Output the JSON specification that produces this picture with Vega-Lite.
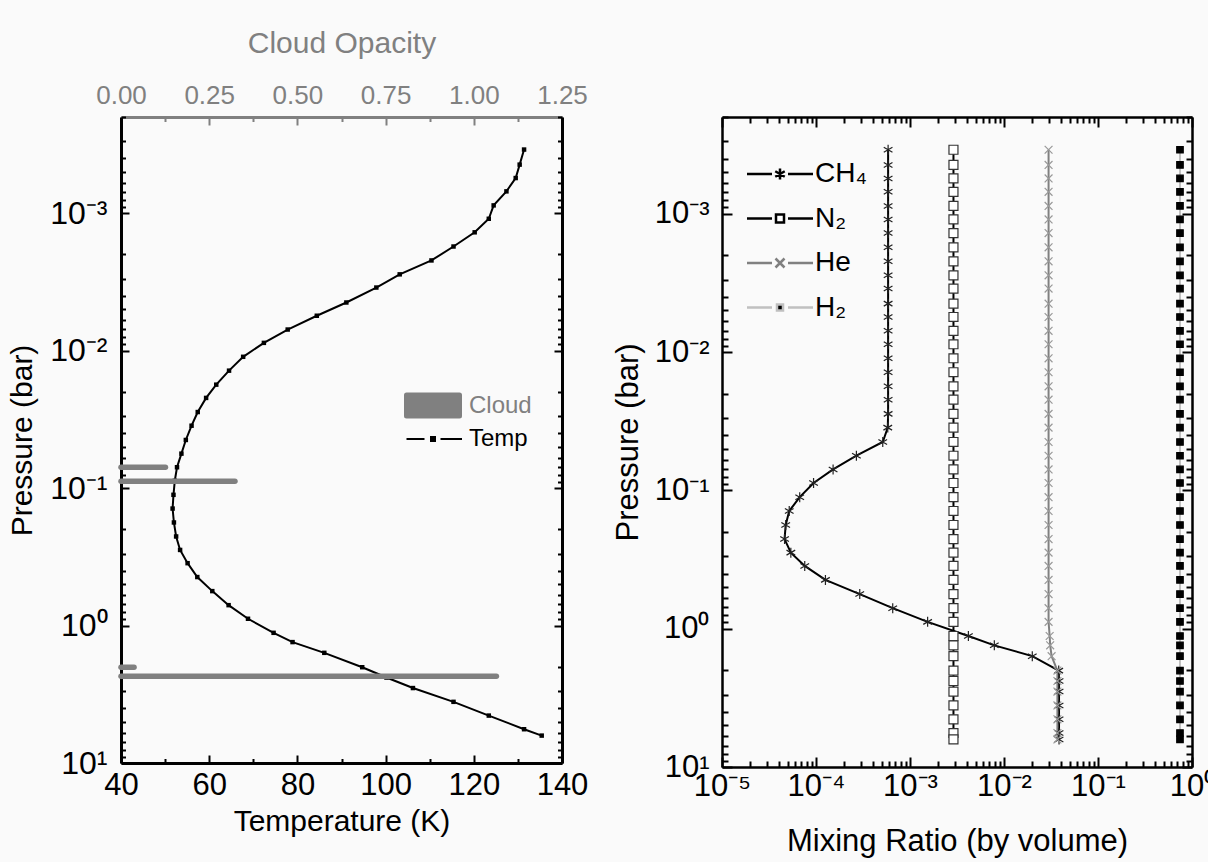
{
  "$schema": "https://vega.github.io/schema/vega-lite/v6.json",
  "background": "#fafafa",
  "padding": {"left": 7, "top": 28, "right": -6, "bottom": 5},
  "bounds": "flush",
  "spacing": 160,
  "resolve": {"scale": {"color": "independent"}, "legend": {"color": "independent"}},
  "config": {
    "font": "Liberation Sans",
    "view": {"stroke": null},
    "axis": {"grid": false, "labelFlush": false, "labelOverlap": false, "labelBound": false, "titleFontWeight": "normal", "labelColor": "#000000", "titleColor": "#000000", "tickColor": "#000000", "domainColor": "#000000", "tickWidth": 2, "zindex": 1}
  },
  "datasets": {
    "profile": [
      {"P": 0.000345, "T": 131.4, "CH4": 0.000585, "N2": 0.0029, "He": 0.0298, "H2": 0.745},
      {"P": 0.000444, "T": 130.4, "CH4": 0.000585, "N2": 0.0029, "He": 0.0298, "H2": 0.745},
      {"P": 0.000556, "T": 129.5, "CH4": 0.000585, "N2": 0.0029, "He": 0.0298, "H2": 0.745},
      {"P": 0.000695, "T": 127.4, "CH4": 0.000585, "N2": 0.0029, "He": 0.0298, "H2": 0.745},
      {"P": 0.000879, "T": 124.5, "CH4": 0.000585, "N2": 0.0029, "He": 0.0298, "H2": 0.745},
      {"P": 0.0011, "T": 123.4, "CH4": 0.000585, "N2": 0.0029, "He": 0.0298, "H2": 0.745},
      {"P": 0.00138, "T": 120.2, "CH4": 0.000585, "N2": 0.0029, "He": 0.0298, "H2": 0.745},
      {"P": 0.00175, "T": 115.4, "CH4": 0.000585, "N2": 0.0029, "He": 0.0298, "H2": 0.745},
      {"P": 0.00221, "T": 110.4, "CH4": 0.000585, "N2": 0.0029, "He": 0.0298, "H2": 0.745},
      {"P": 0.00279, "T": 103.2, "CH4": 0.000585, "N2": 0.0029, "He": 0.0298, "H2": 0.745},
      {"P": 0.00348, "T": 97.9, "CH4": 0.000585, "N2": 0.0029, "He": 0.0298, "H2": 0.745},
      {"P": 0.00447, "T": 91.1, "CH4": 0.000585, "N2": 0.0029, "He": 0.0298, "H2": 0.745},
      {"P": 0.00558, "T": 84.4, "CH4": 0.000585, "N2": 0.0029, "He": 0.0298, "H2": 0.745},
      {"P": 0.00703, "T": 77.8, "CH4": 0.000585, "N2": 0.0029, "He": 0.0298, "H2": 0.745},
      {"P": 0.00879, "T": 72.4, "CH4": 0.000585, "N2": 0.0029, "He": 0.0298, "H2": 0.745},
      {"P": 0.0111, "T": 67.7, "CH4": 0.000585, "N2": 0.0029, "He": 0.0298, "H2": 0.745},
      {"P": 0.014, "T": 64.5, "CH4": 0.000585, "N2": 0.0029, "He": 0.0298, "H2": 0.745},
      {"P": 0.0177, "T": 61.6, "CH4": 0.000585, "N2": 0.0029, "He": 0.0298, "H2": 0.745},
      {"P": 0.0221, "T": 59.3, "CH4": 0.000585, "N2": 0.0029, "He": 0.0298, "H2": 0.745},
      {"P": 0.028, "T": 57.4, "CH4": 0.000585, "N2": 0.0029, "He": 0.0298, "H2": 0.745},
      {"P": 0.0352, "T": 56.0, "CH4": 0.00058, "N2": 0.0029, "He": 0.0298, "H2": 0.745},
      {"P": 0.0447, "T": 54.7, "CH4": 0.000513, "N2": 0.0029, "He": 0.0298, "H2": 0.745},
      {"P": 0.0562, "T": 53.7, "CH4": 0.000269, "N2": 0.0029, "He": 0.0298, "H2": 0.745},
      {"P": 0.0706, "T": 52.7, "CH4": 0.000152, "N2": 0.0029, "He": 0.0298, "H2": 0.745},
      {"P": 0.0885, "T": 52.2, "CH4": 0.0000942, "N2": 0.0029, "He": 0.0298, "H2": 0.745},
      {"P": 0.112, "T": 51.9, "CH4": 0.0000671, "N2": 0.0029, "He": 0.0298, "H2": 0.745},
      {"P": 0.141, "T": 51.7, "CH4": 0.0000519, "N2": 0.0029, "He": 0.0298, "H2": 0.745},
      {"P": 0.178, "T": 52.0, "CH4": 0.0000476, "N2": 0.0029, "He": 0.0298, "H2": 0.745},
      {"P": 0.225, "T": 52.5, "CH4": 0.0000463, "N2": 0.0029, "He": 0.0298, "H2": 0.745},
      {"P": 0.282, "T": 53.4, "CH4": 0.000054, "N2": 0.0029, "He": 0.0298, "H2": 0.745},
      {"P": 0.352, "T": 55.1, "CH4": 0.0000759, "N2": 0.0029, "He": 0.0298, "H2": 0.745},
      {"P": 0.444, "T": 57.3, "CH4": 0.000126, "N2": 0.0029, "He": 0.0298, "H2": 0.745},
      {"P": 0.562, "T": 60.7, "CH4": 0.000292, "N2": 0.0029, "He": 0.0298, "H2": 0.745},
      {"P": 0.711, "T": 64.4, "CH4": 0.000655, "N2": 0.0029, "He": 0.0298, "H2": 0.745},
      {"P": 0.893, "T": 68.8, "CH4": 0.00154, "N2": 0.0029, "He": 0.0298, "H2": 0.745},
      {"P": 1.13, "T": 74.6, "CH4": 0.00418, "N2": 0.0029, "He": 0.0306, "H2": 0.745},
      {"P": 1.32, "T": 78.9, "CH4": 0.00789, "N2": 0.0029, "He": 0.031, "H2": 0.745},
      {"P": 1.58, "T": 86.1, "CH4": 0.02, "N2": 0.0029, "He": 0.0321, "H2": 0.745},
      {"P": 2.01, "T": 94.7, "CH4": 0.0382, "N2": 0.0029, "He": 0.037, "H2": 0.745},
      {"P": 2.39, "T": 100.2, "CH4": 0.0385, "N2": 0.0029, "He": 0.037, "H2": 0.745},
      {"P": 2.85, "T": 106.2, "CH4": 0.0385, "N2": 0.0029, "He": 0.037, "H2": 0.745},
      {"P": 3.59, "T": 115.4, "CH4": 0.0385, "N2": 0.0029, "He": 0.037, "H2": 0.745},
      {"P": 4.52, "T": 123.4, "CH4": 0.0385, "N2": 0.0029, "He": 0.037, "H2": 0.745},
      {"P": 5.68, "T": 131.4, "CH4": 0.0385, "N2": 0.0029, "He": 0.037, "H2": 0.745},
      {"P": 6.32, "T": 135.4, "CH4": 0.0385, "N2": 0.0029, "He": 0.037, "H2": 0.745}
    ],
    "cloud": [
      {"P": 0.0706, "opacity": 0.126},
      {"P": 0.0893, "opacity": 0.323},
      {"P": 2.01, "opacity": 0.037},
      {"P": 2.34, "opacity": 1.064}
    ]
  },
  "hconcat": [
    {
      "width": 441,
      "height": 646,
      "layer": [
        {
          "data": {"name": "profile"},
          "mark": {"type": "line", "strokeWidth": 2, "point": {"shape": "square", "size": 20, "filled": true, "opacity": 1}},
          "encoding": {
            "x": {
              "field": "T", "type": "quantitative",
              "scale": {"domain": [40, 140], "nice": false, "zero": false},
              "axis": {
                "orient": "bottom", "title": "Temperature (K)",
                "values": [40, 50, 60, 70, 80, 90, 100, 110, 120, 130, 140],
                "labelExpr": "datum.value % 20 == 0 ? datum.label : ''",
                "tickSize": {"condition": {"test": "datum.value % 20 == 0", "value": -8}, "value": -4.5},
                "labelPadding": 15, "labelFontSize": 31, "titleFontSize": 30, "titlePadding": 3,
                "domainWidth": 3
              }
            },
            "y": {
              "field": "P", "type": "quantitative",
              "scale": {"type": "log", "domain": [0.0002, 10], "reverse": true, "nice": false},
              "axis": {
                "orient": "left", "title": "Pressure (bar)",
                "values": [0.0002,0.0003,0.0004,0.0005,0.0006,0.0007,0.0008,0.0009,0.001,0.002,0.003,0.004,0.005,0.006,0.007,0.008,0.009,0.01,0.02,0.03,0.04,0.05,0.06,0.07,0.08,0.09,0.1,0.2,0.3,0.4,0.5,0.6,0.7,0.8,0.9,1,2,3,4,5,6,7,8,9,10],
                "labelExpr": "abs(log(datum.value)/LN10 - round(log(datum.value)/LN10)) < 0.000001 ? '10' + (round(log(datum.value)/LN10) == -5 ? '⁻⁵' : round(log(datum.value)/LN10) == -4 ? '⁻⁴' : round(log(datum.value)/LN10) == -3 ? '⁻³' : round(log(datum.value)/LN10) == -2 ? '⁻²' : round(log(datum.value)/LN10) == -1 ? '⁻¹' : round(log(datum.value)/LN10) == 0 ? '⁰' : '¹') : ''",
                "tickSize": {"condition": {"test": "abs(log(datum.value)/LN10 - round(log(datum.value)/LN10)) < 0.000001", "value": -8}, "value": -4.5},
                "labelPadding": 22, "labelFontSize": 32, "titleFontSize": 30, "titlePadding": 12,
                "domainWidth": 3
              }
            },
            "order": {"field": "P", "type": "quantitative"},
            "color": {
              "datum": "Temp",
              "scale": {"domain": ["Cloud", "Temp"], "range": ["#808080", "#000000"]},
              "legend": {
                "orient": "none", "legendX": 300, "legendY": 276.5,
                "title": null, "labelFontSize": 24, "symbolSize": 100, "rowPadding": 5.5, "labelOffset": 24,
                "encode": {
                  "symbols": {"update": {
                    "shape": {"signal": "datum.value == 'Cloud' ? 'M-5.3,-2.4H5.3Q5.6,-2.4 5.6,-2.1V2.1Q5.6,2.4 5.3,2.4H-5.3Q-5.6,2.4 -5.6,2.1V-2.1Q-5.6,-2.4 -5.3,-2.4Z' : 'M-5.3,0H-1.7M1.5,0H5.8M-0.4,-0.4H0.4V0.4H-0.4Z'"},
                    "fill": {"signal": "datum.value == 'Cloud' ? '#808080' : '#000000'"},
                    "stroke": {"signal": "datum.value == 'Cloud' ? '#808080' : '#000000'"},
                    "strokeWidth": {"value": 2},
                    "opacity": {"value": 1}
                  }},
                  "labels": {"update": {"fill": {"signal": "datum.value == 'Cloud' ? '#808080' : '#000000'"}}}
                }
              }
            }
          }
        },
        {
          "data": {"name": "cloud"},
          "mark": {"type": "rule", "strokeWidth": 5.5, "strokeCap": "round"},
          "encoding": {
            "x": {
              "field": "opacity", "type": "quantitative",
              "scale": {"domain": [0, 1.25], "nice": false, "zero": false},
              "axis": {
                "orient": "top", "title": "Cloud Opacity",
                "values": [0, 0.125, 0.25, 0.375, 0.5, 0.625, 0.75, 0.875, 1, 1.125, 1.25],
                "labelExpr": "abs(datum.value*4 - round(datum.value*4)) < 0.000001 ? format(datum.value, '.2f') : ''",
                "tickSize": {"condition": {"test": "abs(datum.value*4 - round(datum.value*4)) < 0.000001", "value": -8}, "value": -4.5},
                "labelPadding": 17, "labelFontSize": 26, "titleFontSize": 30, "titlePadding": 20,
                "domainWidth": 3, "domainColor": "#808080", "tickColor": "#808080", "labelColor": "#808080", "titleColor": "#808080"
              }
            },
            "x2": {"datum": 0},
            "y": {
              "field": "P", "type": "quantitative",
              "scale": {"type": "log", "domain": [0.0002, 10], "reverse": true, "nice": false},
              "axis": {
                "orient": "right", "title": null, "labels": false,
                "values": [0.0002,0.0003,0.0004,0.0005,0.0006,0.0007,0.0008,0.0009,0.001,0.002,0.003,0.004,0.005,0.006,0.007,0.008,0.009,0.01,0.02,0.03,0.04,0.05,0.06,0.07,0.08,0.09,0.1,0.2,0.3,0.4,0.5,0.6,0.7,0.8,0.9,1,2,3,4,5,6,7,8,9,10],
                "tickSize": {"condition": {"test": "abs(log(datum.value)/LN10 - round(log(datum.value)/LN10)) < 0.000001", "value": -8}, "value": -4.5},
                "domainWidth": 3
              }
            },
            "color": {"datum": "Cloud"}
          }
        }
      ],
      "resolve": {"scale": {"x": "independent", "y": "independent"}}
    },
    {
      "width": 470,
      "height": 650,
      "data": {"name": "profile"},
      "transform": [{"fold": ["CH4", "N2", "He", "H2"], "as": ["gas", "v"]}],
      "layer": [
        {
          "encoding": {
            "x": {
              "field": "v", "type": "quantitative",
              "scale": {"type": "log", "domain": [0.00001, 1], "nice": false},
              "axis": {
                "orient": "bottom", "title": "Mixing Ratio (by volume)",
                "values": [0.00001,0.00002,0.00003,0.00004,0.00005,0.00006,0.00007,0.00008,0.00009,0.0001,0.0002,0.0003,0.0004,0.0005,0.0006,0.0007,0.0008,0.0009,0.001,0.002,0.003,0.004,0.005,0.006,0.007,0.008,0.009,0.01,0.02,0.03,0.04,0.05,0.06,0.07,0.08,0.09,0.1,0.2,0.3,0.4,0.5,0.6,0.7,0.8,0.9,1],
                "labelExpr": "abs(log(datum.value)/LN10 - round(log(datum.value)/LN10)) < 0.000001 ? '10' + (round(log(datum.value)/LN10) == -5 ? '⁻⁵' : round(log(datum.value)/LN10) == -4 ? '⁻⁴' : round(log(datum.value)/LN10) == -3 ? '⁻³' : round(log(datum.value)/LN10) == -2 ? '⁻²' : round(log(datum.value)/LN10) == -1 ? '⁻¹' : round(log(datum.value)/LN10) == 0 ? '⁰' : '¹') : ''",
                "tickSize": {"condition": {"test": "abs(log(datum.value)/LN10 - round(log(datum.value)/LN10)) < 0.000001", "value": -10}, "value": -6},
                "labelPadding": 14, "labelFontSize": 31, "titleFontSize": 31, "titlePadding": 21.5,
                "domainWidth": 2.5
              }
            },
            "y": {
              "field": "P", "type": "quantitative",
              "scale": {"type": "log", "domain": [0.0002, 10], "reverse": true, "nice": false},
              "axis": {
                "orient": "left", "title": "Pressure (bar)",
                "values": [0.0002,0.0003,0.0004,0.0005,0.0006,0.0007,0.0008,0.0009,0.001,0.002,0.003,0.004,0.005,0.006,0.007,0.008,0.009,0.01,0.02,0.03,0.04,0.05,0.06,0.07,0.08,0.09,0.1,0.2,0.3,0.4,0.5,0.6,0.7,0.8,0.9,1,2,3,4,5,6,7,8,9,10],
                "labelExpr": "abs(log(datum.value)/LN10 - round(log(datum.value)/LN10)) < 0.000001 ? '10' + (round(log(datum.value)/LN10) == -5 ? '⁻⁵' : round(log(datum.value)/LN10) == -4 ? '⁻⁴' : round(log(datum.value)/LN10) == -3 ? '⁻³' : round(log(datum.value)/LN10) == -2 ? '⁻²' : round(log(datum.value)/LN10) == -1 ? '⁻¹' : round(log(datum.value)/LN10) == 0 ? '⁰' : '¹') : ''",
                "tickSize": {"condition": {"test": "abs(log(datum.value)/LN10 - round(log(datum.value)/LN10)) < 0.000001", "value": -10}, "value": -6},
                "labelPadding": 23, "labelFontSize": 31, "titleFontSize": 31, "titlePadding": 10,
                "domainWidth": 2.5
              }
            }
          },
          "layer": [
            {
              "mark": {"type": "line"},
              "encoding": {
                "color": {
                  "field": "gas", "type": "nominal",
                  "scale": {"domain": ["CH4", "N2", "He", "H2"], "range": ["#000000", "#000000", "#808080", "#c0c0c0"]},
                  "legend": {
                    "orient": "none", "legendX": 44, "legendY": 43,
                    "title": null, "labelFontSize": 28, "symbolSize": 100, "rowPadding": 16.5, "labelOffset": 21,
                    "labelExpr": "datum.value == 'CH4' ? 'CH₄' : datum.value == 'N2' ? 'N₂' : datum.value == 'H2' ? 'H₂' : datum.value",
                    "encode": {
                      "symbols": {"update": {
                        "shape": {"signal": "datum.value == 'CH4' ? 'M-6.6,0H-1.6M1.6,0H6.6M0,-1.1V1.1M-0.95,-0.55L0.95,0.55M-0.95,0.55L0.95,-0.55' : datum.value == 'N2' ? 'M-6.6,0H-1.6M1.6,0H6.6M-0.8,-0.8H0.8V0.8H-0.8Z' : datum.value == 'He' ? 'M-6.6,0H-1.6M1.6,0H6.6M-0.9,-0.9L0.9,0.9M-0.9,0.9L0.9,-0.9' : 'M-6.6,0H-1.6M1.6,0H6.6M-0.6,-0.6H0.6V0.6H-0.6Z'"},
                        "fill": {"signal": "datum.value == 'N2' ? '#ffffff' : datum.value == 'H2' ? '#000000' : 'transparent'"},
                        "stroke": {"signal": "datum.value == 'He' ? '#808080' : datum.value == 'H2' ? '#c0c0c0' : '#000000'"},
                        "strokeWidth": {"value": 2.5},
                        "opacity": {"value": 1}
                      }}
                    }
                  }
                },
                "strokeWidth": {"field": "gas", "type": "nominal", "scale": {"domain": ["CH4", "N2", "He", "H2"], "range": [2, 2, 1.5, 1.5]}, "legend": null},
                "order": {"field": "P", "type": "quantitative"}
              }
            },
            {
              "mark": {"type": "point", "strokeWidth": 1.2, "opacity": 1},
              "encoding": {
                "shape": {"field": "gas", "type": "nominal", "scale": {"domain": ["CH4", "N2", "He", "H2"], "range": ["M0,-1V1M-0.87,-0.5L0.87,0.5M-0.87,0.5L0.87,-0.5", "square", "M-1,-1L1,1M-1,1L1,-1", "square"]}, "legend": null},
                "stroke": {"field": "gas", "type": "nominal", "scale": {"domain": ["CH4", "N2", "He", "H2"], "range": ["#222222", "#333333", "#999999", "#000000"]}, "legend": null},
                "fill": {"field": "gas", "type": "nominal", "scale": {"domain": ["CH4", "N2", "He", "H2"], "range": ["transparent", "#ffffff", "transparent", "#000000"]}, "legend": null},
                "size": {"field": "gas", "type": "nominal", "scale": {"domain": ["CH4", "N2", "He", "H2"], "range": [100, 42, 64, 36]}, "legend": null}
              }
            }
          ]
        },
        {
          "mark": {"type": "point", "opacity": 0},
          "encoding": {
            "x": {
              "field": "v", "type": "quantitative",
              "scale": {"type": "log", "domain": [0.00001, 1], "nice": false},
              "axis": {
                "orient": "top", "title": null, "labels": false,
                "values": [0.00001,0.00002,0.00003,0.00004,0.00005,0.00006,0.00007,0.00008,0.00009,0.0001,0.0002,0.0003,0.0004,0.0005,0.0006,0.0007,0.0008,0.0009,0.001,0.002,0.003,0.004,0.005,0.006,0.007,0.008,0.009,0.01,0.02,0.03,0.04,0.05,0.06,0.07,0.08,0.09,0.1,0.2,0.3,0.4,0.5,0.6,0.7,0.8,0.9,1],
                "tickSize": {"condition": {"test": "abs(log(datum.value)/LN10 - round(log(datum.value)/LN10)) < 0.000001", "value": -10}, "value": -6},
                "domainWidth": 2.5
              }
            },
            "y": {
              "field": "P", "type": "quantitative",
              "scale": {"type": "log", "domain": [0.0002, 10], "reverse": true, "nice": false},
              "axis": {
                "orient": "right", "title": null, "labels": false,
                "values": [0.0002,0.0003,0.0004,0.0005,0.0006,0.0007,0.0008,0.0009,0.001,0.002,0.003,0.004,0.005,0.006,0.007,0.008,0.009,0.01,0.02,0.03,0.04,0.05,0.06,0.07,0.08,0.09,0.1,0.2,0.3,0.4,0.5,0.6,0.7,0.8,0.9,1,2,3,4,5,6,7,8,9,10],
                "tickSize": {"condition": {"test": "abs(log(datum.value)/LN10 - round(log(datum.value)/LN10)) < 0.000001", "value": -10}, "value": -6},
                "domainWidth": 2.5
              }
            }
          }
        }
      ],
      "resolve": {"scale": {"x": "independent", "y": "independent"}}
    }
  ]
}
